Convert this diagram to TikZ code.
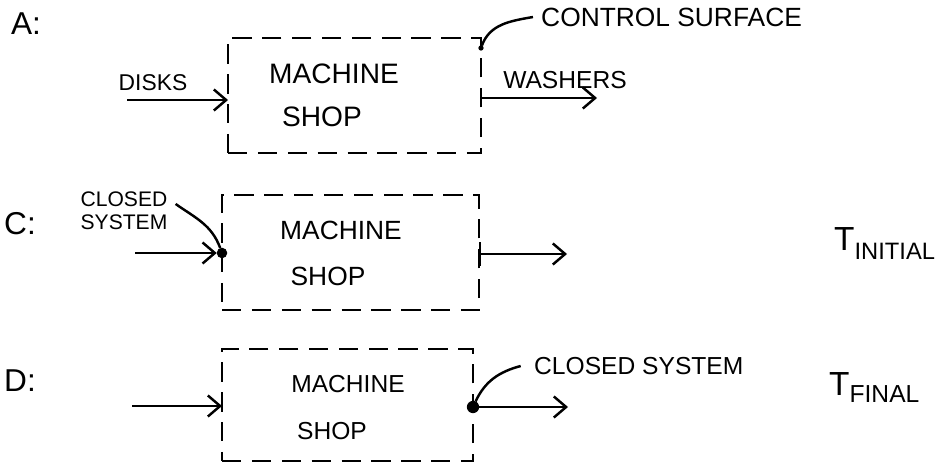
\documentclass[tikz,border=0pt]{standalone}
\usepackage{fontspec}
\setmainfont{Liberation Sans}
\usetikzlibrary{arrows.meta}

\begin{document}
\begin{tikzpicture}[x=0.02cm, y=-0.02cm, line width=1.4pt,
    >={Straight Barb[length=7pt,width=12pt]},
    shopbox/.style={draw, dash pattern=on 11pt off 6pt, inner sep=0pt, outer sep=0pt},
    blob/.style={circle, fill, inner sep=0pt, outer sep=0pt, minimum size=#1},
    lettering/.style={inner sep=0pt, font=\fontsize{#1}{#1}\selectfont}]
      \useasboundingbox (0,0) rectangle (947,466);
      % the three control volumes
      \node[shopbox, minimum width=5.06cm, minimum height=2.3cm] (boxA) at (354.5,95.5) {};
      \node[shopbox, minimum width=5.14cm, minimum height=2.3cm] (boxC) at (350.5,252.5) {};
      \node[shopbox, minimum width=5.02cm, minimum height=2.24cm] (boxD) at (347.5,405) {};
      % panel letters
      \node[lettering=18] (letA) at (26,24) {A:};
      \node[lettering=18] (letC) at (20,224) {C:};
      \node[lettering=18] (letD) at (20,381) {D:};
      % text in the boxes
      \node[lettering=16] (machA) at (334,74) {MACHINE};
      \node[lettering=16] (shopA) at (322,117) {SHOP};
      \node[lettering=15] (machC) at (341,230) {MACHINE};
      \node[lettering=15] (shopC) at (328,276) {SHOP};
      \node[lettering=14] (machD) at (348,384) {MACHINE};
      \node[lettering=14] (shopD) at (332,431) {SHOP};
      % labels
      \node[lettering=13] (disks) at (153,83) {DISKS};
      \node[lettering=14] (washers) at (565,80) {WASHERS};
      \node[lettering=15, anchor=west] (ctrl) at (540,17) {CONTROL SURFACE};
      \node[lettering=12, font=\fontsize{12}{13}\selectfont, align=center] (closedC) at (124,211) {CLOSED\\SYSTEM};
      \node[lettering=14, anchor=west] (closedD) at (533,366) {CLOSED SYSTEM};
      \node[lettering=19, anchor=base west] (tInit) at (833,250) {T\raisebox{-5.5pt}{\fontsize{13.5}{13.5}\selectfont INITIAL}};
      \node[lettering=19, anchor=base west] (tFinal) at (828,395) {T\raisebox{-4.5pt}{\fontsize{14}{14}\selectfont FINAL}};
      % dots on the surface
      \node[blob=3pt] (dotA) at (481,48) {};
      \node[blob=6pt] (dotC) at (222,253) {};
      \node[blob=7pt] (dotD) at (473,407) {};
      % flows
      \coordinate (inA) at (127,100);
      \coordinate (outA) at (597,98);
      \coordinate (inC) at (135,253);
      \coordinate (outC) at (567,254);
      \coordinate (inD) at (132,406);
      \coordinate (outD) at (568,407);
      \draw[->] (inA) -- (inA -| boxA.west);
      \draw[->] (boxA.east |- outA) -- (outA);
      \draw[->] (inC) -- (dotC);
      \draw[{Bar[width=14pt]}->] (boxC.east |- outC) -- (outC);
      \draw[->] (inD) -- (inD -| boxD.west);
      \draw[->] (dotD) -- (outD);
      % pointers
      \draw ([xshift=-4pt]ctrl.west) to[out=190,in=70] (dotA);
      \draw ([xshift=4pt,yshift=4pt]closedC.east) to[out=-35,in=110] (dotC);
      \draw ([xshift=-7pt]closedD.west) to[out=195,in=65] (dotD);
    \end{tikzpicture}
\end{document}
